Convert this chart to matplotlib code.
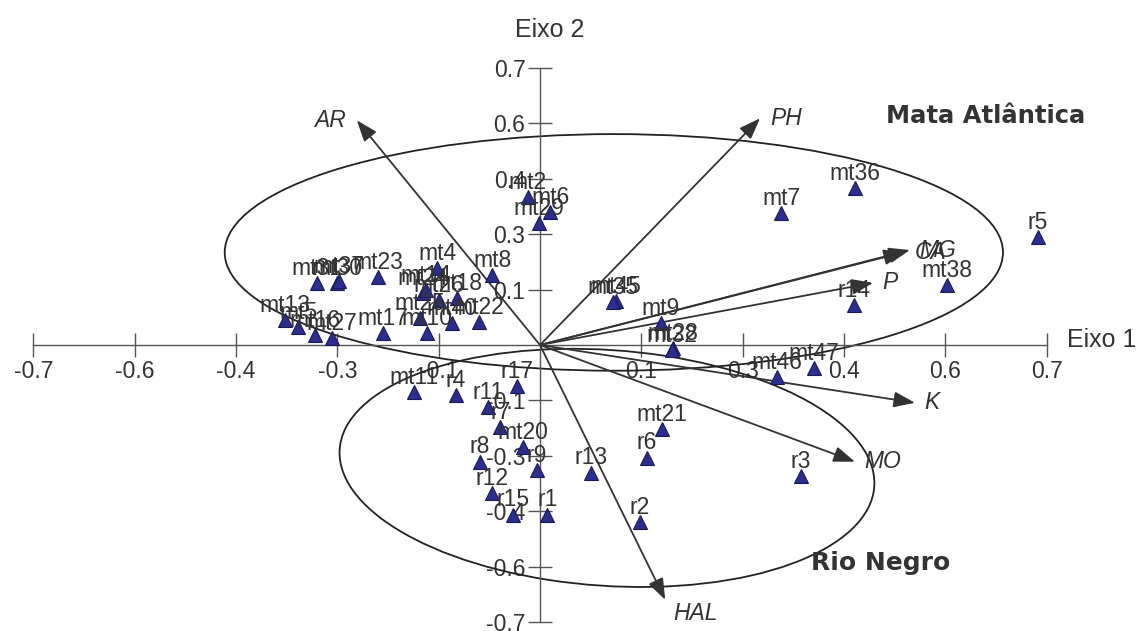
import matplotlib
matplotlib.use("Agg")
import matplotlib.pyplot as plt
from matplotlib.patches import Ellipse

plt.rcParams["font.family"] = ["Liberation Sans", "DejaVu Sans"]
plt.rcParams["axes.unicode_minus"] = False

# -------------------------------------------------
# Data (scores)
# -------------------------------------------------

point_names = [
    "mt2", "mt6", "mt29", "mt7", "mt36", "r5", "mt38", "r14", "mt45", "mt35",
    "mt9", "mt28", "mt32", "mt46", "mt47", "mt21", "r6", "r3", "r2", "r13",
    "r1", "r15", "r12", "r8", "r9", "mt20", "r7", "r11", "r17", "r4",
    "mt11", "mt8", "mt4", "mt24", "mt14", "mt18", "mt26", "mt25", "mt10", "mt40",
    "mt22", "mt23", "mt31", "mt30", "mt37", "mt13", "mt5", "mt16", "mt27", "mt17",
]
point_x = [
    -0.017, 0.014, -0.001, 0.333, 0.435, 0.688, 0.562, 0.434, 0.105, 0.101,
    0.167, 0.184, 0.182, 0.327, 0.378, 0.169, 0.148, 0.360, 0.138, 0.070,
    0.010, -0.037, -0.066, -0.083, -0.004, -0.023, -0.055, -0.072, -0.032, -0.116,
    -0.174, -0.066, -0.142, -0.162, -0.157, -0.115, -0.140, -0.166, -0.156, -0.122,
    -0.084, -0.224, -0.308, -0.280, -0.278, -0.352, -0.334, -0.311, -0.287, -0.217,
]
point_y = [
    0.374, 0.336, 0.308, 0.333, 0.396, 0.273, 0.152, 0.101, 0.111, 0.109,
    0.056, -0.008, -0.013, -0.081, -0.058, -0.212, -0.285, -0.331, -0.447, -0.323,
    -0.429, -0.429, -0.374, -0.295, -0.316, -0.258, -0.207, -0.157, -0.104, -0.126,
    -0.119, 0.177, 0.194, 0.131, 0.139, 0.119, 0.114, 0.068, 0.030, 0.056,
    0.058, 0.172, 0.157, 0.157, 0.162, 0.063, 0.045, 0.025, 0.018, 0.030,
]

# environmental vectors
vector_names = ["AR", "PH", "CA", "MG", "P", "K", "MO", "HAL"]
vector_x = [-0.253, 0.304, 0.504, 0.511, 0.460, 0.518, 0.435, 0.173]
vector_y = [0.568, 0.573, 0.235, 0.240, 0.157, -0.146, -0.295, -0.644]

# group ellipses: centre x, centre y, width, height, angle
group_names = ["Mata Atlântica", "Rio Negro"]
group_cx = [0.102, 0.0925]
group_cy = [0.234, -0.3106]
group_w = [1.075, 0.7495]
group_h = [0.598, 0.5886]
group_angle = [0.0, -15.8]

tick_values = [-0.7, -0.56, -0.42, -0.28, -0.14, 0.14, 0.28, 0.42, 0.56, 0.7]
tick_labels = ["-0.7", "-0.6", "-0.4", "-0.3", "-0.1", "0.1", "0.3", "0.4", "0.6", "0.7"]

# -------------------------------------------------
# Figure
# -------------------------------------------------

TXT = "#333333"
LINE = "#333333"
FS = 16.5

fig = plt.figure(figsize=(11.38, 6.31), dpi=100)
ax = fig.add_axes([0, 0, 1, 1])
ax.set_xlim(-0.7459, 0.826)
ax.set_ylim(-0.7228, 0.8719)

for side in ["top", "right"]:
    ax.spines[side].set_visible(False)
for side in ["left", "bottom"]:
    ax.spines[side].set_position(("data", 0))
    ax.spines[side].set_bounds(-0.7, 0.7)
    ax.spines[side].set_color("#555555")
    ax.spines[side].set_linewidth(1.0)

ax.set_xticks(tick_values)
ax.set_xticklabels(tick_labels)
ax.set_yticks(tick_values)
ax.set_yticklabels(tick_labels)
ax.tick_params(direction="inout", length=17, width=1.0, color="#555555",
               labelsize=FS, labelcolor=TXT, pad=2)

# ellipses
for cx, cy, w, h, ang in zip(group_cx, group_cy, group_w, group_h, group_angle):
    ax.add_patch(Ellipse((cx, cy), w, h, angle=ang, fill=False, ec="#222222",
                         lw=1.3, zorder=2))

# vectors
for name, vx, vy in zip(vector_names, vector_x, vector_y):
    ax.annotate(
        "",
        xy=(vx, vy),
        xytext=(0, 0),
        arrowprops=dict(arrowstyle="-|>,head_length=0.65,head_width=0.24",
                        color=LINE, lw=1.3, shrinkA=0, shrinkB=0,
                        mutation_scale=20),
        zorder=3,
    )
    if vx < 0:
        off, ha = (-8, 0), "right"
    else:
        off, ha = (7, 0), "left"
    if name == "HAL":
        off = (6, -10)
    ax.annotate(name, xy=(vx, vy), xytext=off, textcoords="offset points",
                ha=ha, va="center", fontsize=FS, style="italic", color=TXT,
                zorder=4)

# sample points
ax.plot(point_x, point_y, linestyle="none", marker="^", markersize=10,
        markerfacecolor="#2B2E8F", markeredgecolor="#1A1A55",
        markeredgewidth=0.8, zorder=5)

for name, px, py in zip(point_names, point_x, point_y):
    ax.annotate(name, xy=(px, py), xytext=(0, 6), textcoords="offset points",
                ha="center", va="baseline", fontsize=FS, color=TXT, zorder=6)

# axis titles
ax.text(0.014, 0.795, "Eixo 2", ha="center", va="center", fontsize=18, color=TXT)
ax.text(0.728, 0.013, "Eixo 1", ha="left", va="center", fontsize=18, color=TXT)

# group labels
ax.text(0.615, 0.578, group_names[0], ha="center", va="center",
        fontsize=17.5, fontweight="bold", color=TXT, family="DejaVu Sans")
ax.text(0.471, -0.551, group_names[1], ha="center", va="center",
        fontsize=18, fontweight="bold", color=TXT, family="DejaVu Sans")

fig.savefig("out.png", dpi=100)
